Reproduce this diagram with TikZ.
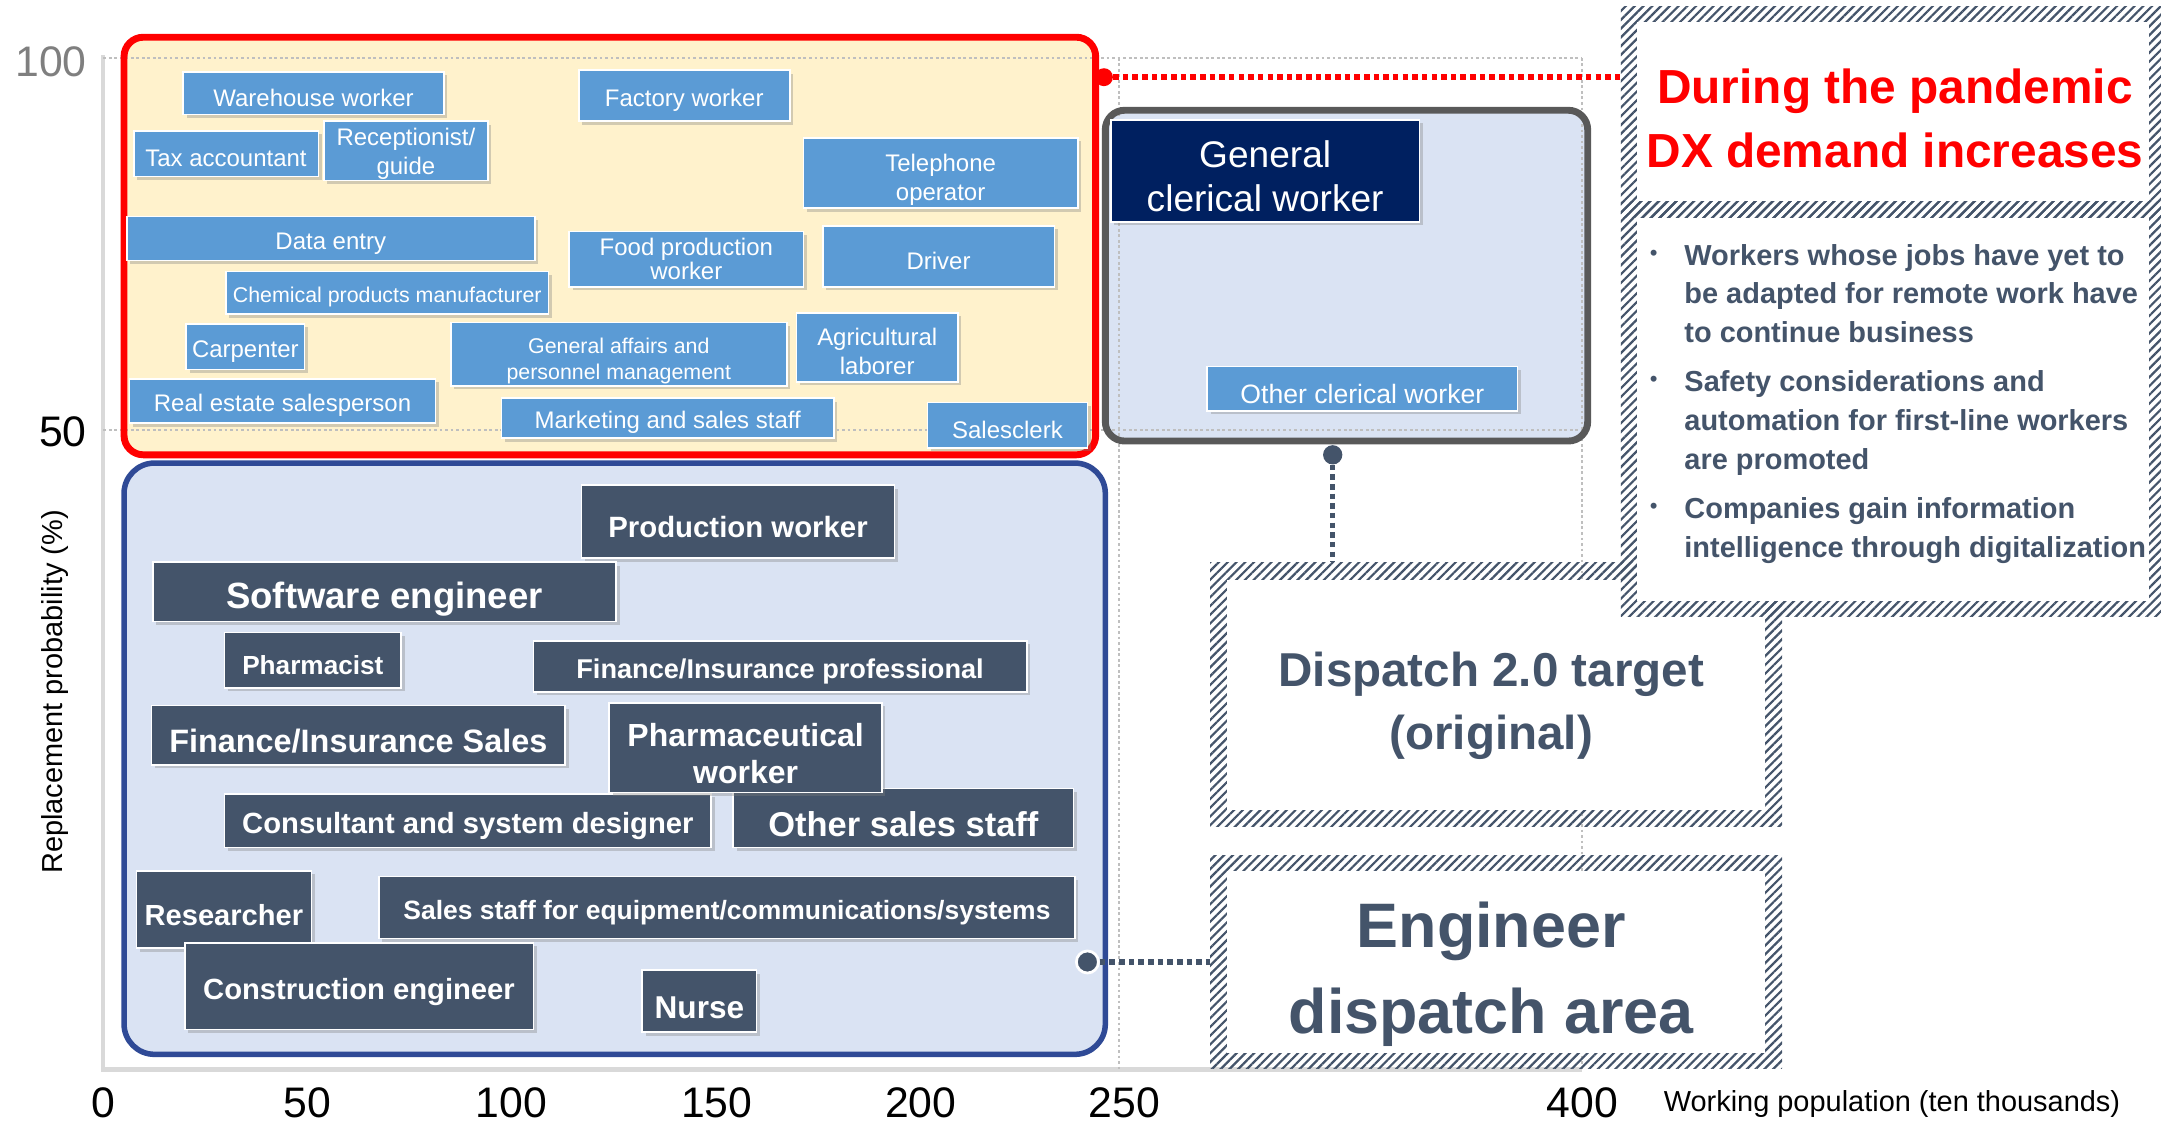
\documentclass[tikz,border=0pt]{standalone}
\usepackage{fontspec}
\setmainfont{Liberation Sans}
\usetikzlibrary{shadows,patterns.meta}

\definecolor{jobblue}{RGB}{91,155,213}
\definecolor{slate}{RGB}{68,84,106}
\definecolor{navy}{RGB}{0,32,96}
\definecolor{zoneyellow}{RGB}{255,242,204}
\definecolor{zoneblue}{RGB}{218,227,243}
\definecolor{zoneedge}{RGB}{47,74,150}
\definecolor{boxgray}{RGB}{89,89,89}
\definecolor{axisgray}{RGB}{217,217,217}
\definecolor{gridgray}{RGB}{191,191,191}
\definecolor{tickgray}{RGB}{127,127,127}

\newcommand\fs[2]{\fontsize{#1}{#2}\selectfont}
\newcommand\firstline[1]{\rule{0pt}{#1em}}

\tikzset{
  jobbox/.style={draw=white, line width=1.2pt, fill=jobblue, text=white, align=center, inner sep=0pt,
    font={\fs{17.4}{21}}, execute at begin node={\rule{0pt}{1.1em}},
    drop shadow={shadow xshift=2.5pt, shadow yshift=-2.5pt, opacity=0.35}},
  darkbox/.style={jobbox, fill=slate},
  hatchband/.style={pattern={Lines[angle=45,distance=4.5pt,line width=1.6pt]}, pattern color=slate},
  link/.style={line width=4pt, dash pattern=on 4pt off 3pt},
  gridline/.style={gridgray, line width=1pt, dash pattern=on 2pt off 2pt},
  bullettext/.style={anchor=north west, align=left, inner sep=0pt, text=slate, font={\bfseries\fs{21}{28}}},
  bulletdot/.style={inner sep=0pt, text=slate, font={\fs{16}{16}}},
  tick/.style={inner sep=0pt, font={\fs{31}{31}}},
}

\begin{document}
\begin{tikzpicture}[x=1pt,y=1pt,yscale=-1]
\useasboundingbox (0,0) rectangle (1568,815);

%Straight Lines (axes)
\draw [axisgray, line width=3pt] (75,40) -- (75,776) -- (1148,776);

%Shape: Rounded Rect (fills)
\fill [zoneyellow, rounded corners=14pt] (90,27) rectangle (795,330);
\fill [zoneblue, rounded corners=22pt] (90,336) rectangle (802,765);
\fill [zoneblue, rounded corners=14pt] (802,80) rectangle (1152,320);

%Straight Lines (grid)
\draw [gridline] (75,42) -- (1148,42);
\draw [gridline] (75,312) -- (1148,312);
\draw [gridline] (812,42) -- (812,776);
\draw [gridline] (1148,42) -- (1148,776);

%Shape: Rounded Rect (borders)
\draw [red, line width=5pt, rounded corners=14pt] (90,27) rectangle (795,330);
\draw [zoneedge, line width=4pt, rounded corners=22pt] (90,336) rectangle (802,765);
\draw [boxgray, line width=5pt, rounded corners=14pt] (802,80) rectangle (1152,320);

% Text Node
\node (warehouse) [jobbox, minimum width=189, minimum height=31] at (227.5,67.5) {Warehouse worker};
% Text Node
\node (factory) [jobbox, minimum width=153, minimum height=37] at (496.5,69.5) {Factory worker};
% Text Node
\node (taxaccountant) [jobbox, minimum width=134, minimum height=33] at (164,111.5) {Tax accountant};
% Text Node
\node (receptionist) [jobbox, minimum width=119, minimum height=43] at (294.5,109.5) {\firstline{0.96}Receptionist/\\guide};
% Text Node
\node (telephone) [jobbox, minimum width=199, minimum height=51] at (682.5,125.5) {\firstline{1.3}Telephone\\operator};
% Text Node
\node (dataentry) [jobbox, minimum width=296, minimum height=32] at (240,173) {Data entry};
% Text Node
\node (foodworker) [jobbox, minimum width=170, minimum height=40, font={\fs{17.4}{17}}] at (498,188) {Food production\\worker};
% Text Node
\node (driver) [jobbox, minimum width=168, minimum height=44] at (681,186) {Driver};
% Text Node
\node (chemical) [jobbox, minimum width=234, minimum height=31, font={\fs{15.5}{19}}] at (281,212.5) {Chemical products manufacturer};
% Text Node
\node (carpenter) [jobbox, minimum width=86, minimum height=33] at (178,251.5) {Carpenter};
% Text Node
\node (generalaffairs) [jobbox, minimum width=244, minimum height=46, font={\fs{15.5}{19}}] at (449,257) {\firstline{1.35}General affairs and\\personnel management};
% Text Node
\node (agricultural) [jobbox, minimum width=117, minimum height=50] at (636.5,252) {\firstline{1.07}Agricultural\\laborer};
% Text Node
\node (realestate) [jobbox, minimum width=222, minimum height=32] at (205,291) {Real estate salesperson};
% Text Node
\node (marketing) [jobbox, minimum width=241, minimum height=29] at (484.5,303.5) {Marketing and sales staff};
% Text Node
\node (salesclerk) [jobbox, minimum width=116, minimum height=33] at (731,308.5) {Salesclerk};
% Text Node
\node (otherclerical) [jobbox, minimum width=225, minimum height=32, font={\fs{19.3}{22}}] at (988.5,282) {Other clerical worker};
% Text Node
\node (generalclerical) [jobbox, fill=navy, minimum width=224, minimum height=74, font={\fs{26.9}{32}}] at (918,124) {\firstline{1.03}General\\clerical worker};

% Text Node
\node (production) [darkbox, minimum width=227, minimum height=53, font={\bfseries\fs{21.3}{25}}] at (535.5,378.5) {Production worker};
% Text Node
\node (software) [darkbox, minimum width=336, minimum height=43, font={\bfseries\fs{26.5}{30}}] at (279,429.5) {Software engineer};
% Text Node
\node (pharmacist) [darkbox, minimum width=128, minimum height=40, font={\bfseries\fs{19}{22}}] at (227,479) {Pharmacist};
% Text Node
\node (fiprofessional) [darkbox, minimum width=358, minimum height=37, font={\bfseries\fs{19.7}{23}}] at (566,483.5) {Finance/Insurance professional};
% Text Node
\node (fisales) [darkbox, minimum width=300, minimum height=43, font={\bfseries\fs{23.5}{27}}] at (260,533.5) {Finance/Insurance Sales};
% Text Node
\node (consultant) [darkbox, minimum width=353, minimum height=39, font={\bfseries\fs{21.2}{25}}] at (339.5,595.5) {Consultant and system designer};
% Text Node
\node (othersales) [darkbox, minimum width=247, minimum height=43, font={\bfseries\fs{25}{29}}] at (655.5,593.5) {Other sales staff};
% Text Node
\node (pharmworker) [darkbox, minimum width=198, minimum height=65, font={\bfseries\fs{23.2}{27}}] at (541,542.5) {\firstline{1.08}Pharmaceutical\\worker};
% Text Node
\node (researcher) [darkbox, minimum width=127, minimum height=56, font={\bfseries\fs{21.1}{25}}] at (162.5,660) {Researcher};
% Text Node
\node (salesequipment) [darkbox, minimum width=505, minimum height=45, font={\bfseries\fs{19.2}{23}}] at (527.5,658.5) {Sales staff for equipment/communications/systems};
% Text Node
\node (construction) [darkbox, minimum width=253, minimum height=63, font={\bfseries\fs{21.2}{25}}] at (260.5,715.5) {Construction engineer};
% Text Node
\node (nurse) [darkbox, minimum width=83, minimum height=45, font={\bfseries\fs{22.9}{26}}] at (507.5,726.5) {Nurse};

%Shape: Hatched Rectangle (dispatch target)
\coordinate (dispatchNW) at (878,408);
\fill [hatchband] (dispatchNW) rectangle (1293,600);
\fill [white] (890,421) rectangle (1281,588);
% Text Node
\node (dispatchtext) [text=slate, align=center, font={\bfseries\fs{34.5}{46}}] at (1082,512) {Dispatch 2.0 target\\(original)};

%Shape: Hatched Rectangle (engineer area)
\coordinate (engineerNW) at (878,621);
\fill [hatchband] (engineerNW) rectangle (1293,775);
\fill [white] (890,632) rectangle (1281,764);
% Text Node
\node (engineertext) [text=slate, align=center, font={\bfseries\fs{45.6}{62}}] at (1082,707) {Engineer\\dispatch area};

%Shape: Hatched Rectangle (pandemic)
\coordinate (pandemicNW) at (1176,5);
\fill [hatchband] (pandemicNW) rectangle (1572,158);
\fill [white] (1188,16) rectangle (1559,146);
% Text Node
\node (pandemictext) [text=red, align=center, font={\bfseries\fs{34.7}{46}}] at (1375,86) {During the pandemic\\DX demand increases};

%Shape: Hatched Rectangle (bullets)
\fill [hatchband] (1176,146) rectangle (1572,447);
\fill [white] (1188,158) rectangle (1559,436);
% Text Node
\node (bulletone) [bullettext] at (1222,177) {Workers whose jobs have yet to\\be adapted for remote work have\\to continue business};
\node (dotone) [bulletdot] at (1200,185) {•};
% Text Node
\node (bullettwo) [bullettext] at (1222,269) {Safety considerations and\\automation for first-line workers\\are promoted};
\node (dottwo) [bulletdot] at (1200,277) {•};
% Text Node
\node (bulletthree) [bullettext] at (1222,361) {Companies gain information\\intelligence through digitalization};
\node (dotthree) [bulletdot] at (1200,369) {•};

%Connectors
\node (reddot) [circle, fill=red, inner sep=0pt, minimum size=13pt] at (801,56) {};
\draw [link, red] (reddot) -- (reddot -| pandemicNW);
\node (clericaldot) [circle, fill=slate, inner sep=0pt, minimum size=14pt] at (967,330) {};
\draw [link, slate] (clericaldot) -- (clericaldot |- dispatchNW);
\node (engineerdot) [circle, fill=slate, draw=white, line width=2pt, inner sep=0pt, minimum size=16pt] at (789,698) {};
\draw [link, slate] (engineerdot) -- (engineerdot -| engineerNW);

% Text Node (ticks)
\node (yhundred) [tick, text=tickgray, anchor=east] at (63,45) {100};
\node (yfifty) [tick, anchor=east] at (63,313) {50};
\node (xzero) [tick] at (75,800) {0};
\node (xfifty) [tick] at (223,800) {50};
\node (xhundred) [tick] at (371,800) {100};
\node (xonefifty) [tick] at (520,800) {150};
\node (xtwohundred) [tick] at (668,800) {200};
\node (xtwofifty) [tick] at (816,800) {250};
\node (xfourhundred) [tick] at (1148,800) {400};

% Text Node (axis titles)
\node (xtitle) [anchor=west, inner sep=0pt, font={\fs{21}{21}}] at (1207,801) {Working population (ten thousands)};
\node (ytitle) [rotate=90, inner sep=0pt, font={\fs{21}{21}}] at (40,502) {Replacement probability (\%)};

\end{tikzpicture}
\end{document}
